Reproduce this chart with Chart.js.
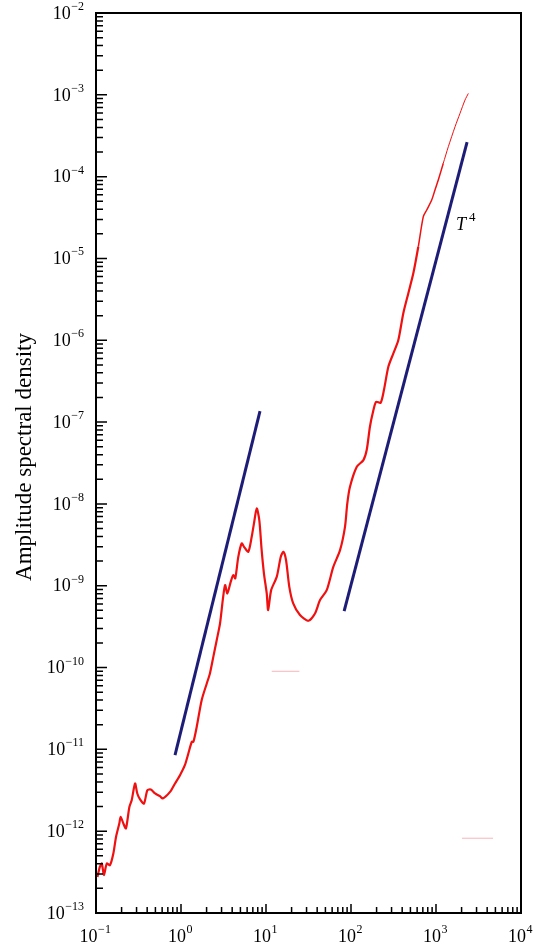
<!DOCTYPE html>
<html>
<head>
<meta charset="utf-8">
<script src="https://cdn.jsdelivr.net/npm/chart.js@4"></script>
<style>
  html, body { margin: 0; padding: 0; background: #fff; }
  canvas { display: block; }
</style>
</head>
<body>
<canvas id="myChart" width="539" height="947"></canvas>
<script>
// measured spectrum (frequency, amplitude spectral density)
var freq = [0.104, 0.111, 0.117, 0.124, 0.134, 0.146, 0.160, 0.172, 0.188, 0.195,
  0.210, 0.225, 0.247, 0.263, 0.288, 0.306, 0.330, 0.367, 0.402, 0.441,
  0.495, 0.566, 0.609, 0.743, 0.850, 0.973, 1.11, 1.22, 1.34, 1.40,
  1.53, 1.75, 2.01, 2.19, 2.40, 2.63, 2.88, 3.10, 3.30, 3.51,
  3.85, 4.12, 4.35, 4.72, 5.18, 5.51, 6.19, 6.79, 7.22, 7.78,
  8.34, 8.89, 9.46, 10.2, 10.6, 11.5, 13.4, 14.9, 16.0, 17.2,
  18.8, 20.9, 25.1, 31.5, 37.7, 43.2, 51.8, 61.9, 74.3, 85.0,
  90.4, 97.3, 117, 140, 153, 167, 180, 197, 223, 244,
  275, 315, 360, 412, 472, 541, 619, 709, 778, 890,
  973, 1064, 1219, 1396, 1675, 1916, 2193, 2400];
var asd = [2.76e-13, 3.66e-13, 4.03e-13, 2.90e-13, 4.03e-13, 3.84e-13, 5.33e-13, 8.51e-13, 1.24e-12, 1.50e-12,
  1.24e-12, 1.08e-12, 1.98e-12, 2.39e-12, 3.83e-12, 2.89e-12, 2.44e-12, 2.18e-12, 3.17e-12, 3.23e-12,
  2.89e-12, 2.68e-12, 2.51e-12, 3.02e-12, 3.83e-12, 4.84e-12, 6.41e-12, 8.91e-12, 1.24e-11, 1.24e-11,
  1.88e-11, 3.99e-11, 6.39e-11, 8.48e-11, 1.35e-10, 2.16e-10, 3.46e-10, 6.67e-10, 1.02e-9, 8.05e-10,
  1.12e-9, 1.35e-9, 1.23e-9, 2.25e-9, 3.29e-9, 2.99e-9, 2.60e-9, 3.96e-9, 5.78e-9, 8.81e-9,
  6.34e-9, 2.72e-9, 1.41e-9, 8.05e-10, 5.04e-10, 8.83e-10, 1.29e-9, 2.25e-9, 2.60e-9, 2.06e-9,
  9.69e-10, 6.08e-10, 4.38e-10, 3.73e-10, 4.58e-10, 6.67e-10, 8.83e-10, 1.70e-9, 2.72e-9, 5.25e-9,
  1.01e-8, 1.62e-8, 2.84e-8, 3.43e-8, 4.55e-8, 8.77e-8, 1.28e-7, 1.77e-7, 1.72e-7, 2.46e-7,
  4.74e-7, 6.92e-7, 1.00e-6, 2.13e-6, 3.74e-6, 6.58e-6, 1.39e-5, 3.24e-5, 3.91e-5, 5.18e-5,
  6.86e-5, 9.08e-5, 1.46e-4, 2.32e-4, 4.07e-4, 5.94e-4, 8.63e-4, 1.04e-3];

// T^4 guide lines
var slopeLowX = [0.85, 8.5];
var slopeLowY = [8.5e-12, 1.36e-7];
var slopeHighX = [83, 2320];
var slopeHighY = [4.9e-10, 2.65e-4];

// faint stray marks in the original figure
var strayAX = [11.7, 24.7];
var strayAY = [9.0e-11, 9.0e-11];
var strayBX = [2020, 4690];
var strayBY = [8.2e-13, 8.2e-13];

// tick decades (exponents of ten)
var xTickExps = [-1, 0, 1, 2, 3, 4];
var yTickExps = [-13, -12, -11, -10, -9, -8, -7, -6, -5, -4, -3, -2];

function pts(xs, ys) {
  return xs.map(function(x, i) { return {x: x, y: ys[i]}; });
}

var serif = "'Liberation Serif', 'Times New Roman', serif";

function supText(e) {
  return e < 0 ? '\u2212' + Math.abs(e) : String(e);
}

var axesPlugin = {
  id: 'axesPlugin',
  afterDraw: function(chart) {
    var c = chart.ctx;
    var a = chart.chartArea;
    var xs = chart.scales.x;
    var ys = chart.scales.y;
    c.save();
    c.strokeStyle = '#000';
    c.fillStyle = '#000';

    // frame
    c.lineWidth = 2;
    c.strokeRect(a.left, a.top, a.right - a.left, a.bottom - a.top);

    // inward ticks
    c.lineWidth = 1.5;
    c.beginPath();
    xTickExps.forEach(function(e) {
      for (var m = 1; m <= 9; m++) {
        var v = m * Math.pow(10, e);
        if (v > xs.max * 1.0001) break;
        var px = xs.getPixelForValue(v);
        var len = m === 1 ? 9 : 6;
        c.moveTo(px, a.bottom);
        c.lineTo(px, a.bottom - len);
      }
    });
    yTickExps.forEach(function(e) {
      for (var m = 1; m <= 9; m++) {
        var v = m * Math.pow(10, e);
        if (v > ys.max * 1.0001) break;
        var py = ys.getPixelForValue(v);
        var len = m === 1 ? 11 : 7;
        c.moveTo(a.left, py);
        c.lineTo(a.left + len, py);
      }
    });
    c.stroke();

    // x tick labels
    xTickExps.forEach(function(e) {
      var px = xs.getPixelForValue(Math.pow(10, e));
      c.font = '18px ' + serif;
      var w1 = c.measureText('10').width;
      c.font = '12px ' + serif;
      var w2 = c.measureText(supText(e)).width;
      var x0 = px - 1 - (w1 + w2) / 2;
      c.textAlign = 'left';
      c.textBaseline = 'alphabetic';
      c.font = '18px ' + serif;
      c.fillText('10', x0, a.bottom + 29);
      c.font = '12px ' + serif;
      c.fillText(supText(e), x0 + w1 + 0.5, a.bottom + 20);
    });

    // y tick labels
    yTickExps.forEach(function(e) {
      var py = ys.getPixelForValue(Math.pow(10, e));
      var right = a.left - 12;
      c.textAlign = 'right';
      c.font = '12px ' + serif;
      var w2 = c.measureText(supText(e)).width;
      c.textBaseline = 'alphabetic';
      c.fillText(supText(e), right, py - 3);
      c.font = '18px ' + serif;
      c.textBaseline = 'middle';
      c.fillText('10', right - w2 - 0.5, py + 1);
    });

    // y axis title
    c.save();
    c.translate(31, (a.top + a.bottom) / 2 - 6);
    c.rotate(-Math.PI / 2);
    c.textAlign = 'center';
    c.textBaseline = 'alphabetic';
    c.font = '23px ' + serif;
    c.fillText('Amplitude spectral density', 0, 0);
    c.restore();

    // T^4 annotation next to the upper guide line
    var tx = xs.getPixelForValue(1720);
    var ty = ys.getPixelForValue(2.2e-5);
    c.textAlign = 'left';
    c.textBaseline = 'alphabetic';
    c.font = 'italic 18px ' + serif;
    c.fillText('T', tx, ty);
    var tw = c.measureText('T').width;
    c.font = '13px ' + serif;
    c.fillText('4', tx + tw + 3, ty - 9);

    c.restore();
  }
};

var ctx = document.getElementById('myChart');

var myChart = new Chart(ctx, {
  type: 'line',
  data: {
    datasets: [{
      data: pts(strayAX, strayAY),
      borderColor: 'rgba(240, 120, 130, 0.55)',
      borderWidth: 1
    }, {
      data: pts(strayBX, strayBY),
      borderColor: 'rgba(240, 120, 130, 0.55)',
      borderWidth: 1
    }, {
      data: pts(slopeLowX, slopeLowY),
      borderColor: '#1d1d78',
      borderWidth: 3
    }, {
      data: pts(slopeHighX, slopeHighY),
      borderColor: '#1d1d78',
      borderWidth: 3
    }, {
      data: pts(freq, asd),
      borderColor: '#f01010',
      borderWidth: 2.2,
      tension: 0.25,
      segment: {
        borderWidth: function(s) {
          var x = s.p0.parsed.x;
          if (x > 1100) return 1;
          if (x > 600) return 1.5;
          return 2.2;
        }
      }
    }]
  },
  options: {
    responsive: false,
    animation: false,
    devicePixelRatio: 1,
    layout: {
      padding: {left: 96, right: 18, top: 13, bottom: 34}
    },
    elements: {
      point: { radius: 0 },
      line: { tension: 0, borderJoinStyle: 'round', borderCapStyle: 'butt' }
    },
    plugins: {
      legend: { display: false },
      tooltip: { enabled: false }
    },
    scales: {
      x: {
        type: 'logarithmic',
        min: 0.1,
        max: 10000,
        ticks: { display: false },
        grid: { display: false, drawTicks: false },
        border: { display: false }
      },
      y: {
        type: 'logarithmic',
        min: 1e-13,
        max: 1e-2,
        ticks: { display: false },
        grid: { display: false, drawTicks: false },
        border: { display: false }
      }
    }
  },
  plugins: [axesPlugin]
});
</script>
</body>
</html>
